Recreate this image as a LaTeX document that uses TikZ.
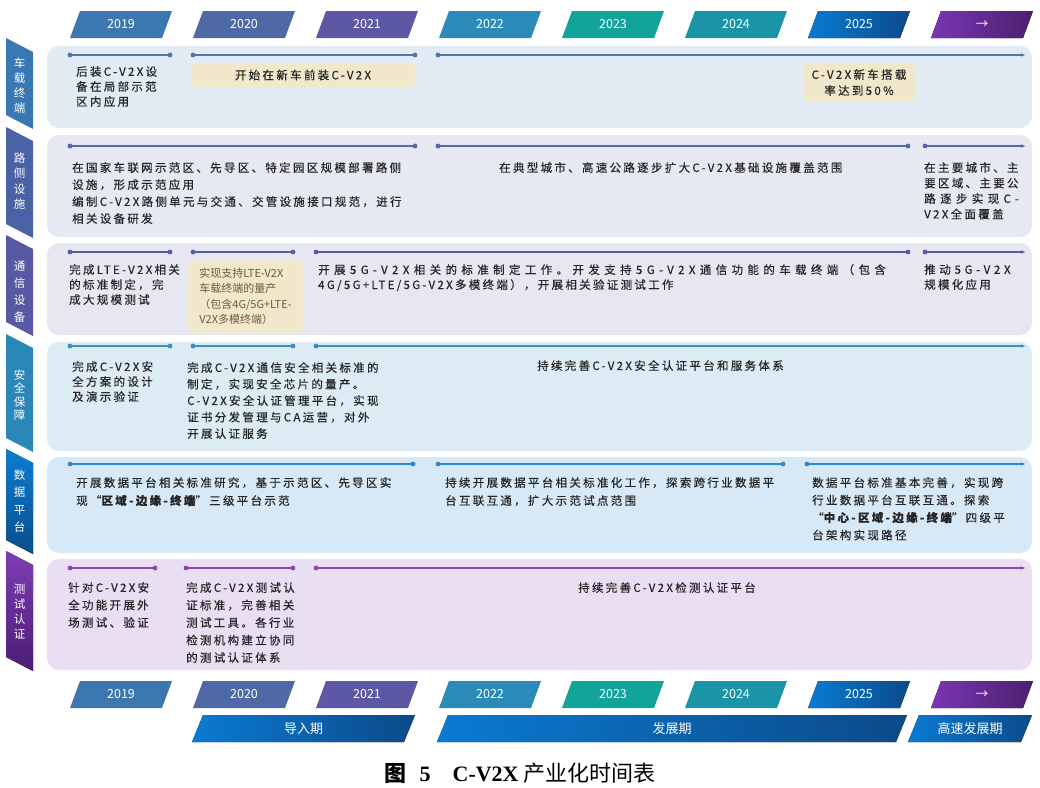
\documentclass[tikz,border=0pt]{standalone}
\usepackage{fontspec}
\setmainfont{Noto Sans CJK SC}
\newfontfamily\rowfont[LetterSpace=20,FakeBold=0.4]{Noto Sans CJK SC}
\newfontfamily\widefont[LetterSpace=32,FakeBold=0.4]{Noto Sans CJK SC}
\newfontfamily\widerfont[LetterSpace=38,FakeBold=0.4]{Noto Sans CJK SC}
\newfontfamily\capfont{Liberation Serif}
\usetikzlibrary{arrows.meta}

% colours
\definecolor{txt}{HTML}{262626}
\definecolor{boxtxt}{HTML}{6E5B3C}
\definecolor{hl}{HTML}{F1E8CB}
\definecolor{c19}{HTML}{3D77B0}
\definecolor{c20}{HTML}{4F68A6}
\definecolor{c21}{HTML}{5C58A3}
\definecolor{c22}{HTML}{2B8BB8}
\definecolor{c23}{HTML}{10A49A}
\definecolor{c24}{HTML}{1C94A8}
\definecolor{bluea}{HTML}{0A7BD3}
\definecolor{blueb}{HTML}{0C4A88}
\definecolor{purpa}{HTML}{7B36B2}
\definecolor{purpb}{HTML}{4A2070}
\definecolor{p1}{HTML}{E2EBF3}
\definecolor{p2}{HTML}{E6E8F2}
\definecolor{p3}{HTML}{E7E7F1}
\definecolor{p4}{HTML}{DDEBF5}
\definecolor{p5}{HTML}{D7E8F7}
\definecolor{p6}{HTML}{E9DEF2}
\definecolor{l1}{HTML}{4A78AE}
\definecolor{l2}{HTML}{5667AC}
\definecolor{l3}{HTML}{5A5BAA}
\definecolor{l4}{HTML}{3A8DC0}
\definecolor{l5}{HTML}{2F87CF}
\definecolor{l6}{HTML}{8846B8}
\definecolor{lab1}{HTML}{3A78B5}
\definecolor{lab2}{HTML}{4A62A6}
\definecolor{lab3}{HTML}{5859A5}
\definecolor{lab4}{HTML}{2A87B8}
\definecolor{lab5a}{HTML}{0B7DD0}
\definecolor{lab5b}{HTML}{0A4D8E}
\definecolor{lab6a}{HTML}{7E3CB5}
\definecolor{lab6b}{HTML}{4B1E74}

\tikzset{
  tab19/.style={fill=c19}, tab20/.style={fill=c20}, tab21/.style={fill=c21},
  tab22/.style={fill=c22}, tab23/.style={fill=c23}, tab24/.style={fill=c24},
  tab25/.style={left color=bluea,right color=blueb},
  tabar/.style={left color=purpa,right color=purpb},
  yeartext/.style={text=white,font=\fontsize{12.5}{14}\selectfont,inner sep=0pt},
  phasetext/.style={text=white,font=\fontsize{13}{15}\selectfont,inner sep=0pt},
  labeltext/.style={text=white,align=center,inner sep=0pt},
  rowtext/.style={anchor=north west,inner sep=0pt,align=left,text=txt,font=\rowfont\fontsize{11.5}{#1}\selectfont},
  rowtext/.default=15,
  hlbox/.style={fill=hl,rounded corners=5pt,text=txt,inner sep=0pt,align=center,font=\rowfont\fontsize{11.5}{16}\selectfont},
  tlline/.style={line width=1.2pt},
}

\newcommand*\yeartab[5]{% name, x, y, style, text
  \fill[#4] (#2,#3+27) -- (#2+10,#3) -- (#2+102,#3) -- (#2+92,#3+27) -- cycle;
  \node[yeartext] (#1) at (#2+51,#3+13.5) {#5};}
\newcommand*\phasebar[4]{% name, left x, right x, text
  \fill[left color=bluea,right color=blueb] (#2,742) -- (#2+11,715) -- (#3+11,715) -- (#3,742) -- cycle;
  \node[phasetext] (#1) at ({(#2+#3)/2+5.5},728.5) {#4};}
\newcommand*\rowband[8]{% n, top, bottom, panel colour, label fill, label y, label skip, label
  \fill[#4,rounded corners=12pt] (47,#2) rectangle (1032,#3);
  \fill[#5] (6,#2-8) -- (33,#2+6) -- (33,#3+1) -- (6,#3-13) -- cycle;
  \node[labeltext,font=\fontsize{11.5}{#7}\selectfont] (lab-#1) at (19.5,#6) {#8};}
\newcommand*\tlseg[5][]{% colour, name, y, x1, x2
  \coordinate (#2-s) at (#4,#3); \coordinate (#2-e) at (#5,#3);
  \draw[tlline,#1] (#2-s) -- (#2-e);
  \fill[#1] (#2-s) circle (2.4pt) (#2-e) circle (2.4pt);}
\newcommand*\tlarrow[4][]{% colour, name, y, x1
  \coordinate (#2-s) at (#4,#3); \coordinate (#2-e) at (1026,#3);
  \draw[tlline,#1,-{Latex[length=5pt,width=3.5pt]}] (#2-s) -- (#2-e);
  \fill[#1] (#2-s) circle (2.4pt);}

\begin{document}
\begin{tikzpicture}[x=1pt,y=-1pt]
\useasboundingbox (0,0) rectangle (1040,787);
\fill[white] (0,0) rectangle (1040,787);

% year tabs, top and bottom
\foreach \yr/\st [count=\i from 0] in {2019/tab19,2020/tab20,2021/tab21,2022/tab22,2023/tab23,2024/tab24,2025/tab25,→/tabar}{
  \pgfmathsetmacro\xx{70+123*\i}
  \yeartab{top-\i}{\xx}{11}{\st}{\yr}
  \yeartab{bot-\i}{\xx}{681}{\st}{\yr}
}

% rows
\rowband{1}{46}{128}{p1}{fill=lab1}{85.5}{15}{车\\载\\终\\端}
\rowband{2}{135}{237}{p2}{fill=lab2}{181}{15.5}{路\\侧\\设\\施}
\rowband{3}{243}{335}{p3}{fill=lab3}{292}{17}{通\\信\\设\\备}
\rowband{4}{342}{451}{p4}{fill=lab4}{395}{13.5}{安\\全\\保\\障}
\rowband{5}{457}{553}{p5}{top color=lab5a,bottom color=lab5b}{501}{17.5}{数\\据\\平\\台}
\rowband{6}{559}{670}{p6}{top color=lab6a,bottom color=lab6b}{612}{15}{测\\试\\认\\证}

% timelines
\foreach \a/\b [count=\k] in {70/170,193/415} {\tlseg[color=l1]{r1-\k}{55}{\a}{\b}}
\tlarrow[color=l1]{r1-go}{55}{438}
\foreach \a/\b [count=\k] in {70/415,438/908} {\tlseg[color=l2]{r2-\k}{146}{\a}{\b}}
\tlarrow[color=l2]{r2-go}{146}{925}
\foreach \a/\b [count=\k] in {70/170,193/293,316/908} {\tlseg[color=l3]{r3-\k}{252}{\a}{\b}}
\tlarrow[color=l3]{r3-go}{252}{925}
\foreach \a/\b [count=\k] in {70/170,193/293} {\tlseg[color=l4]{r4-\k}{346}{\a}{\b}}
\tlarrow[color=l4]{r4-go}{346}{316}
\foreach \a/\b [count=\k] in {70/413,438/783} {\tlseg[color=l5]{r5-\k}{464}{\a}{\b}}
\tlarrow[color=l5]{r5-go}{464}{807}
\foreach \a/\b [count=\k] in {70/155,186/293} {\tlseg[color=l6]{r6-\k}{568}{\a}{\b}}
\tlarrow[color=l6]{r6-go}{568}{316}

% row 1
\node[rowtext=15] (t1-a) at (76,66) {后装C-V2X设\\备在局部示范\\区内应用};
\node[hlbox,minimum width=224,minimum height=24] (t1-b) at (303,75) {开始在新车前装C-V2X};
\node[hlbox,minimum width=112,minimum height=39] (t1-c) at (859,82.5) {C-V2X新车搭载\\率达到50\%};

% row 2
\node[rowtext=17] (t2-a) at (72,162) {在国家车联网示范区、先导区、特定园区规模部署路侧\\设施，形成示范应用\\编制C-V2X路侧单元与交通、交管设施接口规范，进行\\相关设备研发};
\node[rowtext] (t2-b) at (499,162) {在典型城市、高速公路逐步扩大C-V2X基础设施覆盖范围};
\node[rowtext=15.5] (t2-c) at (924,162) {在主要城市、主\\要区域、主要公\\{\widerfont 路逐步实现C-}\\V2X全面覆盖};

% row 3
\node[rowtext=15] (t3-a) at (69,264) {完成LTE-V2X相关\\的标准制定，完\\成大规模测试};
\node[hlbox,minimum width=115,minimum height=73,text=boxtxt,font=\fontsize{11}{15.5}\selectfont,align=left] (t3-b) at (245.5,296.5) {实现支持LTE-V2X\\车载终端的量产\\（包含4G/5G+LTE-\\V2X多模终端）};
\node[rowtext=15] (t3-c) at (318,264) {{\widerfont 开展5G-V2X相关的标准制定工作。开发支持5G-V2X通信功能的车载终端（包含}\\4G/5G+LTE/5G-V2X多模终端），开展相关验证测试工作};
\node[rowtext=15] (t3-d) at (924,264) {{\widefont 推动5G-V2X}\\规模化应用};

% row 4
\node[rowtext=15] (t4-a) at (72,361) {完成C-V2X安\\全方案的设计\\及演示验证};
\node[rowtext=16.5] (t4-b) at (187,362) {完成C-V2X通信安全相关标准的\\制定，实现安全芯片的量产。\\C-V2X安全认证管理平台，实现\\证书分发管理与CA运营，对外\\开展认证服务};
\node[rowtext] (t4-c) at (537,360) {持续完善C-V2X安全认证平台和服务体系};

% row 5
\node[rowtext=18] (t5-a) at (76,477) {开展数据平台相关标准研究，基于示范区、先导区实\\现“{\bfseries 区域-边缘-终端}”三级平台示范};
\node[rowtext=18] (t5-b) at (445,477) {持续开展数据平台相关标准化工作，探索跨行业数据平\\台互联互通，扩大示范试点范围};
\node[rowtext=17.5] (t5-c) at (812,477) {数据平台标准基本完善，实现跨\\行业数据平台互联互通。探索\\“{\bfseries 中心-区域-边缘-终端}”四级平\\台架构实现路径};

% row 6
\node[rowtext=17.5] (t6-a) at (68,582) {针对C-V2X安\\全功能开展外\\场测试、验证};
\node[rowtext=17.5] (t6-b) at (186,582) {完成C-V2X测试认\\证标准，完善相关\\测试工具。各行业\\检测机构建立协同\\的测试认证体系};
\node[rowtext] (t6-c) at (578,582) {持续完善C-V2X检测认证平台};

% phases
\phasebar{ph-1}{192}{404}{导入期}
\phasebar{ph-2}{437}{896}{发展期}
\phasebar{ph-3}{908}{1021}{高速发展期}

% caption
\node[font=\fontsize{22}{26}\selectfont,inner sep=0pt] (caption) at (520,773) {{\bfseries 图}\hspace{0.6em}{\capfont\bfseries 5}\hspace{1em}{\capfont\bfseries C-V2X} 产业化时间表};
\end{tikzpicture}
\end{document}
